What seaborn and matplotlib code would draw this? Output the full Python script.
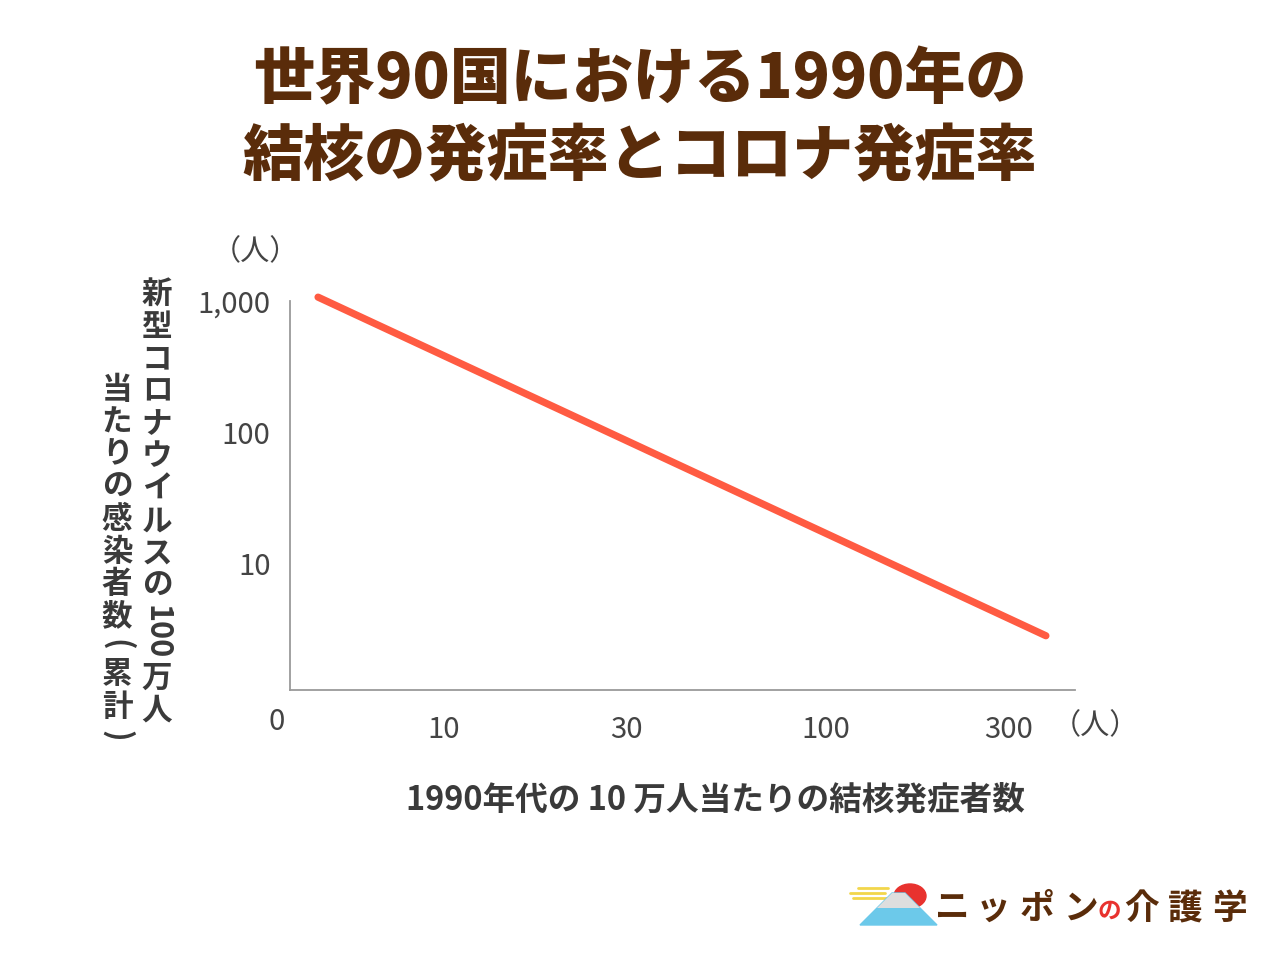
import numpy as np
import pandas as pd
import matplotlib
matplotlib.use('Agg')
import matplotlib.pyplot as plt
import matplotlib.patches as mpatches
import seaborn as sns

# データ
tb_rate = [4.7, 376]          # 1990年代の10万人当たりの結核発症者数
covid_rate = [1070, 2.8]      # 100万人当たりの感染者数
x_ticks = [10, 30, 100, 300]
x_tick_labels = ['10', '30', '100', '300']
y_ticks = [10, 100, 1000]
y_tick_labels = ['10', '100', '1,000']

title_lines = ['世界90国における1990年の', '結核の発症率とコロナ発症率']
x_label = '1990年代の 10 万人当たりの結核発症者数'
y_col1 = ['新', '型', 'コ', 'ロ', 'ナ', 'ウ', 'イ', 'ル', 'ス', 'の', '100', '万', '人']
y_col2 = ['当', 'た', 'り', 'の', '感', '染', '者', '数', '(', '累', '計', ')']
logo_chars = ['ニ', 'ッ', 'ポ', 'ン', 'の', '介', '護', '学']

df = pd.DataFrame({'tb': tb_rate, 'covid': covid_rate})

sns.set_theme(style='white')
plt.rcParams['font.family'] = ['Noto Sans CJK JP', 'DejaVu Sans']

W, H = 1280, 960
fig = plt.figure(figsize=(12.8, 9.6), dpi=100)
fig.patch.set_facecolor('white')

def fx(px):
    return px / W

def fy(py):
    return 1 - py / H

ax = fig.add_axes([fx(290), fy(690), fx(1075) - fx(290), fy(301) - fy(690)])
sns.lineplot(data=df, x='tb', y='covid', ax=ax, color='#ff5b42', linewidth=5.2,
             solid_capstyle='round', clip_on=False)
ax.set_xscale('log')
ax.set_yscale('log')
ax.set_xlim(3.97, 448)
ax.set_ylim(1.08, 1000)
ax.set_xticks(x_ticks)
ax.set_xticklabels(x_tick_labels)
ax.set_yticks(y_ticks)
ax.set_yticklabels(y_tick_labels)
ax.minorticks_off()
ax.tick_params(length=0, labelsize=21, labelcolor='#444444')
ax.tick_params(axis='x', pad=18)
ax.tick_params(axis='y', pad=14)
ax.set_xlabel('')
ax.set_ylabel('')
ax.set_facecolor('white')
for s in ['top', 'right']:
    ax.spines[s].set_visible(False)
for s in ['left', 'bottom']:
    ax.spines[s].set_color('#9a9a9a')
    ax.spines[s].set_linewidth(1.3)
ax.grid(False)

# 原点の 0 と単位
fig.text(fx(277), fy(722), '0', fontsize=21, color='#444444', ha='center', va='center')
fig.text(fx(1095), fy(726), '（人）', fontsize=21, color='#444444', ha='center', va='center')
fig.text(fx(255), fy(252), '（人）', fontsize=21, color='#444444', ha='center', va='center')

# タイトル
for line, yy in zip(title_lines, [80, 157]):
    fig.text(0.5, fy(yy), line, fontsize=44, fontweight='black',
             color='#5a2c0a', ha='center', va='center')

# x軸ラベル
fig.text(fx(715), fy(800), x_label, fontsize=23.5, fontweight='bold', color='#3a3a3a',
         ha='center', va='center')

# y軸ラベル (縦書き)
def vertical_text(chars, x, y0, pitch=32.3, size=22):
    y = y0
    for c in chars:
        if c.isdigit() or c in '()':
            adv = pitch * (0.62 * len(c)) if c.isdigit() else pitch * 0.8
            yc = y - pitch / 2 + adv / 2
            fig.text(fx(x), fy(yc), c, fontsize=size, fontweight='bold', color='#3a3a3a',
                     ha='center', va='center', rotation=-90)
            y = yc + adv / 2 + pitch / 2
        else:
            fig.text(fx(x), fy(y), c, fontsize=size, fontweight='bold', color='#3a3a3a',
                     ha='center', va='center')
            y += pitch

vertical_text(y_col1, 157, 295)
vertical_text(y_col2, 117, 390)

# ロゴ
fig.patches.append(mpatches.Circle((fx(910), fy(896)), 16 / W, transform=fig.transFigure,
                                   color='#e8322e', zorder=1))
for (x0, x1, yy) in [(858, 888, 888), (850, 885, 893), (853, 890, 898)]:
    fig.lines.append(plt.Line2D([fx(x0), fx(x1)], [fy(yy), fy(yy)], transform=fig.transFigure,
                                color='#f2d64b', linewidth=2))
fig.patches.append(mpatches.Polygon([(fx(860), fy(925)), (fx(937), fy(925)),
                                     (fx(905), fy(893)), (fx(892), fy(893))],
                                    closed=True, transform=fig.transFigure,
                                    color='#6cc9ea', zorder=2))
fig.patches.append(mpatches.Polygon([(fx(877), fy(908)), (fx(920), fy(908)),
                                     (fx(905), fy(893)), (fx(892), fy(893))],
                                    closed=True, transform=fig.transFigure,
                                    facecolor='#dedede', edgecolor='none', zorder=3))
logo_x = [952, 993, 1037, 1081, 1109, 1142, 1185, 1230]
for c, xx in zip(logo_chars, logo_x):
    col = '#e8322e' if c == 'の' else '#5a2c0a'
    size = 17 if c == 'の' else 25
    fig.text(fx(xx), fy(911 if c == 'の' else 908), c, fontsize=size, fontweight='bold',
             color=col, ha='center', va='center')

fig.savefig('out.png', dpi=100, facecolor='white')
